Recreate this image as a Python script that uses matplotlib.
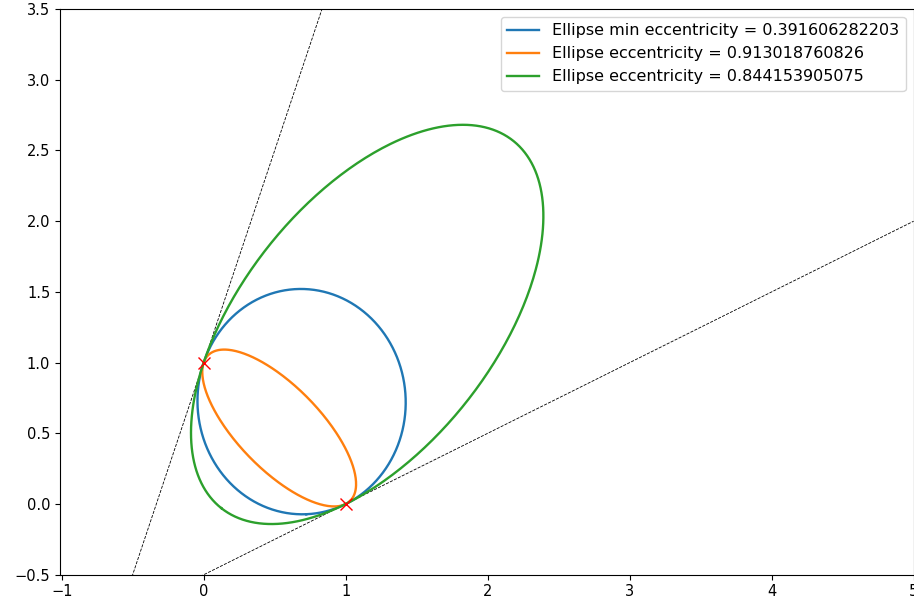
import numpy as np
import matplotlib
matplotlib.use("Agg")
import matplotlib.pyplot as plt

# Tangent points and slopes of the two tangent lines
tangent_points_x = [0.0, 1.0]
tangent_points_y = [1.0, 0.0]
tangent_slopes = [3.0, 0.5]

# Eccentricities of the ellipses; branch picks the root of the family parameter
eccentricities = [0.391606282203, 0.913018760826, 0.844153905075]
branches = ["double", "large", "small"]
labels = [
    "Ellipse min eccentricity = 0.391606282203",
    "Ellipse eccentricity = 0.913018760826",
    "Ellipse eccentricity = 0.844153905075",
]

x_ticks = [-1, 0, 1, 2, 3, 4, 5]
y_ticks = [-0.5, 0.0, 0.5, 1.0, 1.5, 2.0, 2.5, 3.0, 3.5]


def line_coeffs(px, py, m):
    # a*x + b*y + c = 0
    return np.array([m, -1.0, py - m * px])


def conic_family():
    l1 = line_coeffs(tangent_points_x[0], tangent_points_y[0], tangent_slopes[0])
    l2 = line_coeffs(tangent_points_x[1], tangent_points_y[1], tangent_slopes[1])
    # chord through the two tangent points
    dx = tangent_points_x[1] - tangent_points_x[0]
    dy = tangent_points_y[1] - tangent_points_y[0]
    chord = np.array([dy, -dx, -(dy * tangent_points_x[0] - dx * tangent_points_y[0])])

    def prod(p, q):
        # coefficients A, B, C, D, E, F of (p.[x,y,1])(q.[x,y,1])
        return np.array([
            p[0] * q[0],
            p[0] * q[1] + p[1] * q[0],
            p[1] * q[1],
            p[0] * q[2] + p[2] * q[0],
            p[1] * q[2] + p[2] * q[1],
            p[2] * q[2],
        ])
    return prod(l1, l2), prod(chord, chord)


def k_for_eccentricity(e, branch, base, sq):
    r = 1.0 - e ** 2
    c = (1.0 + r) ** 2 / r
    # trace and determinant of the quadratic part as polynomials in k
    A0, B0, C0 = base[:3]
    A1, B1, C1 = sq[:3]
    T = np.array([A1 + C1, A0 + C0])
    D = np.polysub(np.polymul([A1, A0], [C1, C0]),
                   np.polymul([B1 / 2, B0 / 2], [B1 / 2, B0 / 2]))
    poly = np.polysub(np.polymul(T, T), c * np.asarray(D))
    roots = np.real(np.roots(poly))
    if branch == "double":
        return roots.mean()
    return roots.max() if branch == "large" else roots.min()


def ellipse_points(coef, n=400):
    A, B, C, D, E, F = coef
    M = np.array([[A, B / 2], [B / 2, C]])
    center = np.linalg.solve(2 * M, -np.array([D, E]))
    Fc = F + 0.5 * (D * center[0] + E * center[1])
    w, v = np.linalg.eigh(M)
    axes = np.sqrt(-Fc / w)
    t = np.linspace(0, 2 * np.pi, n)
    pts = (center[:, None]
           + v[:, [0]] * axes[0] * np.cos(t)
           + v[:, [1]] * axes[1] * np.sin(t))
    return pts[0], pts[1]


fig = plt.figure(figsize=(9.14, 6.05), dpi=100)
ax = fig.add_axes([0.0656, 0.05, 0.934, 0.935])

base, sq = conic_family()
for e, br, lab in zip(eccentricities, branches, labels):
    k = k_for_eccentricity(e, br, base, sq)
    xs, ys = ellipse_points(base + k * sq)
    ax.plot(xs, ys, label=lab, zorder=3, linewidth=1.7)

xl = np.array([-1.0, 5.0])
for px, py, m in zip(tangent_points_x, tangent_points_y, tangent_slopes):
    ax.plot(xl, py + m * (xl - px), "k--", linewidth=0.6, zorder=2)

ax.plot(tangent_points_x, tangent_points_y, "rx", markersize=8, zorder=4)

ax.set_xlim(-1.012, 5.0)
ax.set_ylim(-0.5, 3.5)
ax.set_xticks(x_ticks)
ax.set_yticks(y_ticks)
ax.tick_params(labelsize=10.5)
ax.legend(loc="upper right", fontsize=11.5)

fig.savefig("out.png", dpi=100)
